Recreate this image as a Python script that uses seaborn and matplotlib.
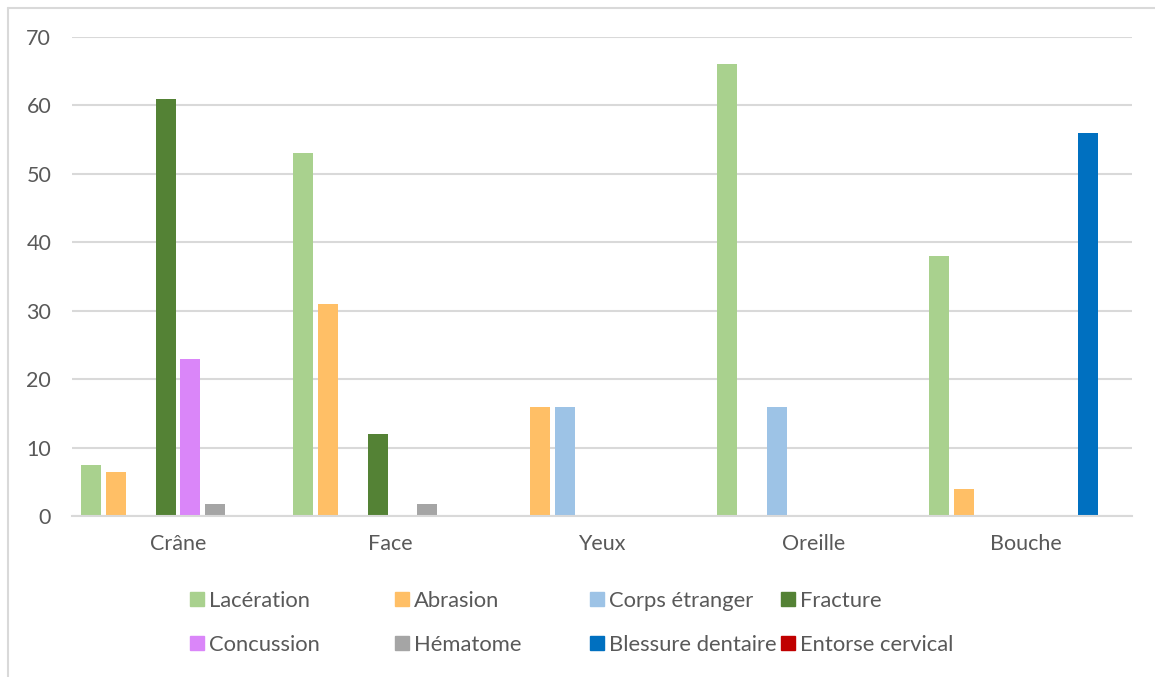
import pandas as pd
import matplotlib.pyplot as plt
import matplotlib.lines as mlines
import seaborn as sns

# Data
regions = ['Crâne', 'Face', 'Yeux', 'Oreille', 'Bouche']
injuries = ['Lacération', 'Abrasion', 'Corps étranger', 'Fracture',
            'Concussion', 'Hématome', 'Blessure dentaire', 'Entorse cervical']
laceration = [7.4, 53, 0, 66, 38]
abrasion = [6.5, 31, 16, 0, 4]
corps_etranger = [0, 0, 16, 16, 0]
fracture = [61, 12, 0, 0, 0]
concussion = [23, 0, 0, 0, 0]
hematome = [1.7, 1.7, 0, 0, 0]
blessure_dentaire = [0, 0, 0, 0, 56]
entorse_cervical = [0, 0, 0, 0, 0]
y_ticks = [0, 10, 20, 30, 40, 50, 60, 70]

colors = ['#A9D18E', '#FFBF66', '#9DC3E6', '#548235',
          '#DA86F9', '#A5A5A5', '#0070C0', '#C00000']

series = [laceration, abrasion, corps_etranger, fracture,
          concussion, hematome, blessure_dentaire, entorse_cervical]
rows = []
for name, vals in zip(injuries, series):
    for reg, v in zip(regions, vals):
        rows.append({'Région': reg, 'Blessure': name, 'Valeur': v})
df = pd.DataFrame(rows)

sns.set_theme(style='white')
plt.rcParams['font.family'] = ['Lato', 'DejaVu Sans']

fig = plt.figure(figsize=(11.55, 6.77), dpi=100)
ax = fig.add_axes([72 / 1155, 1 - 516 / 677, 1060 / 1155, 479 / 677])

sns.barplot(data=df, x='Région', y='Valeur', hue='Blessure',
            order=regions, hue_order=injuries, palette=colors, saturation=1,
            width=0.94, gap=0.2, linewidth=0, ax=ax, legend=False)

ax.set_ylim(0, 70)
ax.set_xlim(-0.5, len(regions) - 0.5)
ax.set_yticks(y_ticks)
ax.yaxis.grid(True, color='#D9D9D9', linewidth=1.5)
ax.set_axisbelow(True)
for s in ['top', 'right', 'left']:
    ax.spines[s].set_visible(False)
ax.spines['bottom'].set_color('#D9D9D9')
ax.spines['bottom'].set_linewidth(1.5)
ax.tick_params(axis='both', length=0, labelsize=15.5, colors='#595959')
ax.tick_params(axis='x', pad=13)
ax.tick_params(axis='y', pad=15)
ax.set_xlabel('')
ax.set_ylabel('')

# Legend: two rows of four, one small legend per column so the columns
# sit where Excel put them
handles = [mlines.Line2D([], [], marker='s', linestyle='none', markersize=10,
                         markerfacecolor=c, markeredgecolor=c, label=n)
           for n, c in zip(injuries, colors)]
col_left = [190, 395, 590, 781]
for k, x0 in enumerate(col_left):
    leg = fig.legend(handles=[handles[k], handles[k + 4]], ncol=1,
                     loc='center left', bbox_to_anchor=(x0 / 1155, 1 - 623 / 677),
                     frameon=False, borderpad=0, borderaxespad=0,
                     fontsize=15.8, labelcolor='#595959', handlelength=0.6,
                     handletextpad=0.25, labelspacing=1.1)

# Outer chart border (only top and left visible in the crop)
fig.add_artist(mlines.Line2D([8 / 1155, 1], [1 - 7.5 / 677, 1 - 7.5 / 677],
                             transform=fig.transFigure, color='#D9D9D9', linewidth=1.5))
fig.add_artist(mlines.Line2D([8 / 1155, 8 / 1155], [0, 1 - 7.5 / 677],
                             transform=fig.transFigure, color='#D9D9D9', linewidth=1.5))

fig.savefig('out.png', dpi=100)
